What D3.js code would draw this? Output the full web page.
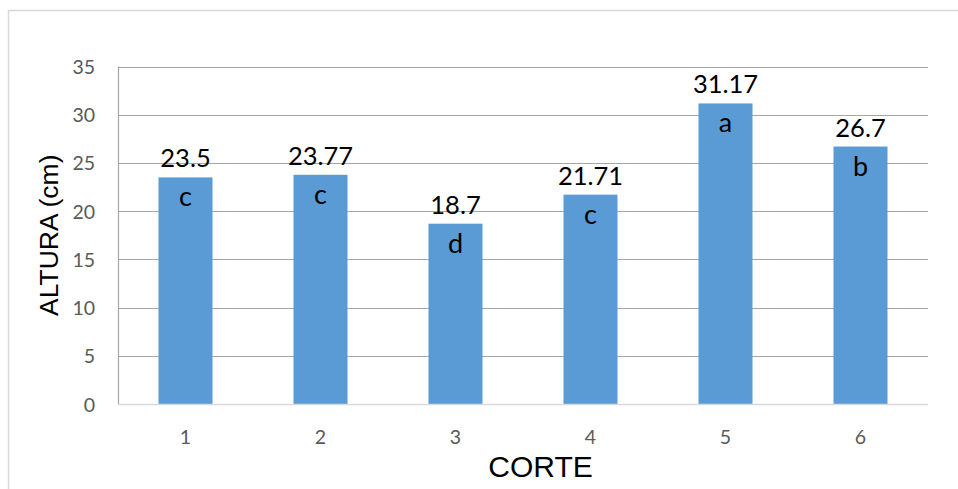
<!DOCTYPE html>
<html>
<head>
<meta charset="utf-8">
<script src="https://cdn.jsdelivr.net/npm/d3@7"></script>
<style>
  html, body { margin: 0; padding: 0; background: #fff; }
  svg { display: block; }
</style>
</head>
<body>
<svg id="chart" width="958" height="489"></svg>
<script>
// Plant height per cut, with the significance letter of each mean
const cortes = ["1", "2", "3", "4", "5", "6"];
const altura = [23.5, 23.77, 18.7, 21.71, 31.17, 26.7];
const letras = ["c", "c", "d", "c", "a", "b"];
const yTicks = [0, 5, 10, 15, 20, 25, 30, 35];

const svg = d3.select("#chart");
const W = 958, H = 489;
const plot = { left: 118, right: 928, top: 66.5, bottom: 404 };

// Outer chart frame (runs off the right and bottom edges)
svg.append("rect")
  .attr("x", 8.5).attr("y", 10.5)
  .attr("width", W + 20).attr("height", H + 20)
  .attr("fill", "#fff")
  .attr("stroke", "#d9d9d9").attr("stroke-width", 1.5);

const x = d3.scaleBand()
  .domain(cortes)
  .range([plot.left, plot.right])
  .paddingInner(0.6)
  .paddingOuter(0.3);

const y = d3.scaleLinear()
  .domain([0, 35])
  .range([plot.bottom, plot.top]);

// Horizontal gridlines
svg.append("g")
  .selectAll("line")
  .data(yTicks.filter(d => d > 0))
  .join("line")
  .attr("x1", plot.left).attr("x2", plot.right)
  .attr("y1", d => Math.round(y(d)) + 0.5).attr("y2", d => Math.round(y(d)) + 0.5)
  .attr("stroke", "#a6a6a6").attr("stroke-width", 1.2);

// Left axis line
svg.append("line")
  .attr("x1", plot.left + 0.5).attr("x2", plot.left + 0.5)
  .attr("y1", y(35)).attr("y2", plot.bottom)
  .attr("stroke", "#a6a6a6").attr("stroke-width", 1.2);

// Y axis labels
const yAxis = d3.axisLeft(y).tickValues(yTicks).tickSize(0).tickPadding(0);
const gy = svg.append("g")
  .attr("transform", `translate(${plot.left - 23},0)`)
  .call(yAxis);
gy.select(".domain").remove();
gy.selectAll("text")
  .attr("fill", "#595959")
  .style("font-family", "Lato, 'Open Sans', sans-serif")
  .style("font-size", "19.5px")
  .attr("dy", "0.36em");

// Bars
svg.append("g")
  .selectAll("rect")
  .data(altura)
  .join("rect")
  .attr("x", (d, i) => x(cortes[i]))
  .attr("y", d => y(d))
  .attr("width", x.bandwidth())
  .attr("height", d => plot.bottom - y(d))
  .attr("fill", "#5b9bd5");

// Baseline (category axis)
svg.append("line")
  .attr("x1", plot.left).attr("x2", plot.right)
  .attr("y1", plot.bottom + 0.5).attr("y2", plot.bottom + 0.5)
  .attr("stroke", "#d9d9d9").attr("stroke-width", 1.5);

// X axis labels
const xAxis = d3.axisBottom(x).tickSize(0).tickPadding(0);
const gx = svg.append("g")
  .attr("transform", `translate(0,${plot.bottom + 26})`)
  .call(xAxis);
gx.select(".domain").remove();
gx.selectAll("text")
  .attr("fill", "#595959")
  .style("font-family", "Lato, 'Open Sans', sans-serif")
  .style("font-size", "19.5px");

// Value labels above bars
svg.append("g")
  .selectAll("text")
  .data(altura)
  .join("text")
  .attr("x", (d, i) => x(cortes[i]) + x.bandwidth() / 2)
  .attr("y", d => y(d) - 10)
  .attr("text-anchor", "middle")
  .attr("fill", "#000")
  .style("font-family", "Lato, 'Open Sans', sans-serif")
  .style("font-size", "25.5px")
  .text(d => d);

// Significance letters inside bars
svg.append("g")
  .selectAll("text")
  .data(letras)
  .join("text")
  .attr("x", (d, i) => x(cortes[i]) + x.bandwidth() / 2)
  .attr("y", (d, i) => y(altura[i]) + 29)
  .attr("text-anchor", "middle")
  .attr("fill", "#000")
  .style("font-family", "Lato, 'Open Sans', sans-serif")
  .style("font-size", "27px")
  .text(d => d);

// Axis titles
svg.append("text")
  .attr("transform", `translate(58,${(plot.top + plot.bottom) / 2}) rotate(-90)`)
  .attr("text-anchor", "middle")
  .attr("fill", "#000")
  .style("font-family", "'Liberation Sans', Arial, sans-serif")
  .style("font-size", "26.5px")
  .text("ALTURA (cm)");

svg.append("text")
  .attr("x", 540.5)
  .attr("y", 477)
  .attr("text-anchor", "middle")
  .attr("fill", "#000")
  .style("font-family", "'Liberation Sans', Arial, sans-serif")
  .style("font-size", "30px")
  .text("CORTE");
</script>
</body>
</html>
